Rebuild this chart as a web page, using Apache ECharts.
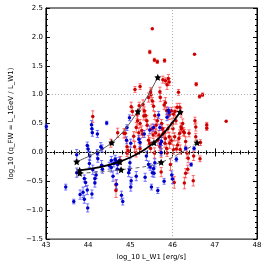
<!DOCTYPE html>
<html><head><meta charset="utf-8">
<script src="https://cdn.jsdelivr.net/npm/echarts@6/dist/echarts.min.js"></script>
<style>html,body{margin:0;padding:0;background:#fff}#c{width:266px;height:266px}</style>
</head><body><div id="c"></div>
<script>
const xTicks = [43, 44, 45, 46, 47, 48];
const yTicks = [-1.5, -1.0, -0.5, 0.0, 0.5, 1.0, 1.5, 2.0, 2.5];

const redX = [44.11,44.70,44.54,44.66,44.66,44.77,44.88,44.92,44.95,
45.11,45.23,45.02,45.05,45.21,45.30,45.32,45.43,45.48,45.49,
45.52,45.55,45.58,45.70,45.71,45.77,45.83,45.87,45.90,45.92,
45.80,45.83,45.86,45.92,45.98,46.02,46.06,46.11,46.14,46.17,
46.20,46.08,45.99,46.01,45.16,45.17,45.14,45.23,45.27,45.29,
45.33,45.36,45.39,45.40,45.43,45.46,45.48,45.51,45.54,45.57,
45.60,45.61,45.64,45.65,45.68,45.70,45.73,45.74,45.76,45.77,
45.80,45.82,45.83,45.86,45.87,45.89,45.92,45.93,45.95,45.98,
46.02,46.04,46.05,46.09,46.12,46.15,46.17,46.18,46.20,46.21,
46.24,46.26,46.28,46.31,46.34,46.36,46.37,46.39,46.28,46.31,
46.49,46.50,46.53,46.55,45.08,45.10,45.14,45.20,45.23,44.92,
44.85,45.52,45.46,45.57,45.64,45.81,46.52,46.56,46.64,46.71,
47.27,46.81,46.81,46.65,46.55,46.66,45.73];
const redY = [0.62,0.34,0.16,-0.66,-0.56,-0.14,0.33,0.10,0.03,
1.09,1.14,0.79,0.71,0.81,0.83,0.63,0.95,1.05,1.00,
0.89,0.80,0.64,1.05,0.95,1.26,1.24,1.17,1.28,1.22,
0.82,0.86,0.72,0.65,0.72,0.66,0.71,0.78,1.04,0.78,
0.69,0.55,0.50,0.41,0.66,0.55,0.43,0.50,0.38,0.32,
0.72,0.64,0.55,0.47,0.21,0.16,0.07,0.41,0.30,-0.01,
0.34,0.47,0.55,0.21,0.30,0.10,-0.01,0.50,0.41,0.32,
0.35,0.16,0.24,0.07,-0.01,0.41,0.27,0.16,-0.21,0.21,
0.05,-0.52,0.27,0.06,0.13,0.24,0.33,0.05,0.44,0.41,
0.50,0.36,0.34,0.19,-0.01,-0.29,-0.10,0.33,-0.53,-0.36,
-0.49,-0.06,0.55,0.44,0.28,0.10,-0.01,0.34,0.07,-0.01,
0.33,2.14,1.74,1.60,1.57,1.59,1.70,1.18,0.97,1.00,
0.54,0.48,0.42,-0.11,0.27,0.17,-0.34];
const redErr = [0.10,0.08,0.07,0.12,0.08,0.07,0.08,0.09,0.07,
0.05,0.05,0.08,0.07,0.06,0.08,0.07,0.08,0.07,0.09,
0.06,0.08,0.07,0.08,0.07,0.06,0.05,0.08,0.07,0.06,
0.08,0.09,0.07,0.08,0.06,0.07,0.08,0.07,0.05,0.07,
0.08,0.06,0.09,0.08,0.07,0.08,0.09,0.07,0.08,0.06,
0.07,0.08,0.09,0.07,0.08,0.10,0.07,0.08,0.06,0.09,
0.07,0.08,0.06,0.09,0.08,0.07,0.08,0.07,0.09,0.06,
0.08,0.07,0.09,0.08,0.06,0.07,0.08,0.09,0.10,0.07,
0.08,0.10,0.07,0.06,0.08,0.07,0.06,0.08,0.07,0.06,
0.08,0.07,0.06,0.08,0.09,0.07,0.08,0.06,0.10,0.08,
0.09,0.08,0.06,0.07,0.08,0.09,0.07,0.08,0.07,0.06,
0.08,0.00,0.03,0.03,0.03,0.03,0.00,0.03,0.03,0.03,
0.00,0.04,0.04,0.05,0.06,0.05,0.08];

const blueX = [43.01,43.47,43.66,43.73,43.73,43.81,43.88,43.91,43.98,43.99,
43.91,43.94,43.98,44.00,44.03,44.04,44.08,44.09,44.10,44.09,
44.11,44.16,44.16,44.19,44.22,44.22,44.23,44.30,44.33,44.32,
44.34,44.44,44.50,44.55,44.55,44.59,44.61,44.64,44.66,44.69,
44.70,44.74,44.67,44.79,44.82,44.91,44.92,44.96,44.98,44.99,
45.01,45.02,44.98,45.01,45.14,45.20,45.23,45.33,45.35,45.38,
45.43,45.46,45.47,45.50,45.52,45.55,45.56,45.55,45.58,45.65,
45.67,45.70,45.71,45.73,45.74,45.80,45.87,45.90,45.92,45.98,
46.00,46.09,46.31,46.44,46.51];
const blueY = [0.45,-0.60,-0.85,-0.04,-0.35,-0.73,-0.69,-0.81,-0.65,-0.96,
-0.45,-0.52,0.12,0.06,-0.19,-0.06,0.48,0.41,0.34,-0.72,
-0.30,-0.45,-0.53,-0.39,0.32,-0.02,-0.11,0.10,0.07,-0.22,
-0.29,0.51,-0.23,-0.14,-0.26,-0.41,-0.19,-0.12,-0.15,-0.29,
-0.21,-0.14,-0.55,-0.74,-0.85,0.21,0.43,-0.35,-0.30,-0.18,
-0.60,-0.49,0.60,0.16,-0.41,0.23,0.17,0.32,-0.43,-0.06,
-0.21,0.39,-0.25,-0.60,-0.35,-0.28,-0.36,0.43,-0.18,-0.66,
0.65,0.43,0.15,0.00,0.19,-0.50,0.61,0.73,0.69,-0.39,
-0.46,-0.12,0.07,-0.21,0.07];
const blueErr = [0.04,0.05,0.04,0.09,0.08,0.08,0.09,0.07,0.08,0.07,
0.06,0.07,0.06,0.05,0.07,0.08,0.07,0.06,0.06,0.07,
0.08,0.06,0.07,0.06,0.06,0.07,0.06,0.07,0.06,0.08,
0.07,0.03,0.06,0.07,0.08,0.09,0.06,0.07,0.06,0.08,
0.07,0.06,0.08,0.07,0.06,0.06,0.05,0.07,0.06,0.08,
0.07,0.06,0.05,0.07,0.08,0.06,0.07,0.06,0.07,0.08,
0.06,0.07,0.06,0.05,0.07,0.06,0.07,0.06,0.07,0.05,
0.06,0.05,0.07,0.06,0.07,0.05,0.06,0.05,0.06,0.07,
0.08,0.04,0.03,0.03,0.03];

const thinX = [43.73, 44.56, 45.18, 45.65];
const thinY = [-0.16, 0.17, 0.71, 1.30];
const thickX = [43.80, 44.75, 45.56, 46.18];
const thickY = [-0.31, -0.16, 0.17, 0.70];
const dashX = [43.80, 44.78, 45.73, 46.58];
const dashY = [-0.36, -0.30, -0.17, 0.17];

const refLinesY = [0, 1];
const refLinesX = [46];

const zip = (a, b, c) => a.map((v, i) => c ? [v, b[i], c[i]] : [v, b[i]]);
const STAR = 'path://M0,-10 L2.9,-4 L9.5,-3.1 L4.7,1.5 L5.9,8.1 L0,5 L-5.9,8.1 L-4.7,1.5 L-9.5,-3.1 L-2.9,-4 Z';

function errItem(color) {
  return function (params, api) {
    const x = api.value(0), y = api.value(1), e = api.value(2);
    if (!e) return null;
    const lo = api.coord([x, y - e]), hi = api.coord([x, y + e]);
    const cw = 1.6;
    const st = { stroke: color, lineWidth: 1 };
    return { type: 'group', children: [
      { type: 'line', shape: { x1: lo[0], y1: lo[1], x2: hi[0], y2: hi[1] }, style: st },
      { type: 'line', shape: { x1: lo[0] - cw, y1: lo[1], x2: lo[0] + cw, y2: lo[1] }, style: st },
      { type: 'line', shape: { x1: hi[0] - cw, y1: hi[1], x2: hi[0] + cw, y2: hi[1] }, style: st }
    ]};
  };
}
const fmt = v => (v < 0 ? '\u2212' + Math.abs(v).toFixed(1) : v.toFixed(1));
const fontFam = 'DejaVu Sans';

const axisCommon = {
  axisLine: { show: true, lineStyle: { color: '#000', width: 1 } },
  axisTick: { show: true, inside: true, length: 4, lineStyle: { color: '#000' } },
  minorTick: { show: true, splitNumber: 5, length: 2, lineStyle: { color: '#000' } },
  splitLine: { show: false }
};

const chart = echarts.init(document.getElementById('c'), null, { renderer: 'canvas' });
chart.setOption({
  animation: false,
  backgroundColor: '#fff',
  grid: { left: 29, right: 9, top: 8, bottom: 21, show: true, borderColor: '#000', borderWidth: 1 },
  xAxis: [
    Object.assign({ type: 'value', min: xTicks[0], max: xTicks[xTicks.length - 1], interval: 1,
      position: 'bottom',
      axisLabel: { fontSize: 7, color: '#000', margin: 3, fontFamily: fontFam, formatter: v => String(v) },
      name: 'log_10 L_W1 [erg/s]', nameLocation: 'middle', nameGap: 11,
      nameTextStyle: { fontSize: 7, color: '#000', fontFamily: fontFam } }, axisCommon),
    Object.assign({ type: 'value', min: xTicks[0], max: xTicks[xTicks.length - 1], interval: 1,
      position: 'top', axisLabel: { show: false } }, axisCommon)
  ],
  yAxis: [
    Object.assign({ type: 'value', min: yTicks[0], max: yTicks[yTicks.length - 1], interval: 0.5,
      position: 'left',
      axisLabel: { fontSize: 7, color: '#000', margin: 3, fontFamily: fontFam, formatter: fmt },
      name: 'log_10 (q_FW = L_1GeV / L_W1)', nameLocation: 'middle', nameGap: 20, nameRotate: 90,
      nameTextStyle: { fontSize: 7, color: '#000', fontFamily: fontFam } }, axisCommon),
    Object.assign({ type: 'value', min: yTicks[0], max: yTicks[yTicks.length - 1], interval: 0.5,
      position: 'right', axisLabel: { show: false } }, axisCommon)
  ],
  series: [
    { type: 'custom', renderItem: errItem('rgba(255,50,50,0.7)'), data: zip(redX, redY, redErr), z: 2,
      encode: { x: 0, y: 1 } },
    { type: 'scatter', data: zip(redX, redY), symbol: 'circle', symbolSize: 3.5, z: 3,
      itemStyle: { color: '#cc0000', opacity: 1 } },
    { type: 'custom', renderItem: errItem('rgba(60,60,255,0.7)'), data: zip(blueX, blueY, blueErr), z: 4,
      encode: { x: 0, y: 1 } },
    { type: 'scatter', data: zip(blueX, blueY), symbol: 'circle', symbolSize: 3.5, z: 5,
      itemStyle: { color: '#0000cc', opacity: 1 },
      markLine: { silent: true, symbol: 'none', label: { show: false },
        lineStyle: { color: '#aaa', type: [1, 2], width: 1 },
        data: refLinesY.map(v => ({ yAxis: v })).concat(refLinesX.map(v => ({ xAxis: v }))) } },
    { type: 'line', data: zip(thinX, thinY), smooth: 0.4, symbol: STAR, symbolSize: 7, z: 10,
      lineStyle: { color: '#555', width: 1 }, itemStyle: { color: '#000' } },
    { type: 'line', data: zip(thickX, thickY), smooth: 0.4, symbol: STAR, symbolSize: 7, z: 10,
      lineStyle: { color: '#000', width: 1.8 }, itemStyle: { color: '#000' } },
    { type: 'line', data: zip(dashX, dashY), smooth: 0.4, symbol: STAR, symbolSize: 7, z: 10,
      lineStyle: { color: '#666', width: 1, type: [4, 3] }, itemStyle: { color: '#000' } }
  ]
});
</script>
</body></html>
